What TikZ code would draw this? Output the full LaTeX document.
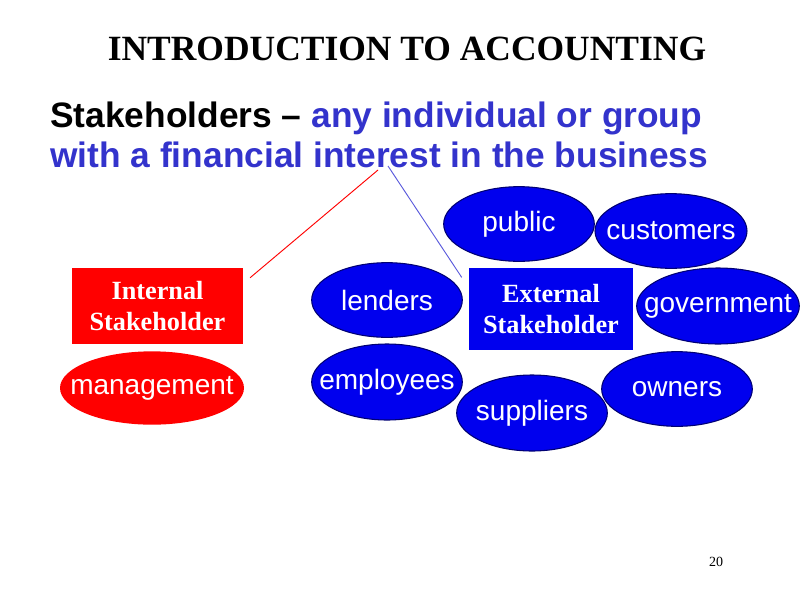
\documentclass[tikz,border=0pt]{standalone}
\usepackage{fontspec}
\setmainfont{Liberation Serif}
\setsansfont{Liberation Sans}
\usetikzlibrary{shapes.geometric}

\definecolor{slidered}{RGB}{255,0,0}
\definecolor{slideblue}{RGB}{0,0,238}
\definecolor{textblue}{RGB}{51,51,204}
\definecolor{lineblue}{RGB}{90,90,220}

% text that should not widen its ellipse
\newcommand{\partytext}[1]{\makebox[0pt]{#1}}

\begin{document}
\begin{tikzpicture}[x=0.75pt, y=-0.75pt,
  party/.style={ellipse, fill=slideblue, draw=black!55!blue, line width=0.8pt,
    inner sep=0pt, minimum width=113pt, minimum height=56pt, text=white,
    font=\sffamily\fontsize{21}{25}\selectfont},
  sidebox/.style={rectangle, inner sep=0pt, text=white, align=center,
    font=\bfseries\fontsize{19.7}{23}\selectfont}]

\useasboundingbox (0,0) rectangle (800,600);

% heading
\node[anchor=base, font=\bfseries\fontsize{26.6}{30}\selectfont] (title) at (407,60)
  {INTRODUCTION TO ACCOUNTING};
\node[anchor=base west, inner sep=0pt, font=\sffamily\bfseries\fontsize{26.5}{30}\selectfont] (def1) at (50,127)
  {Stakeholders -- \textcolor{textblue}{any individual or group}};
\node[anchor=base west, inner sep=0pt, text=textblue, font=\sffamily\bfseries\fontsize{26.5}{30}\selectfont] (def2) at (50,167)
  {with a financial interest in the business};

% internal side
\node[sidebox, fill=slidered, minimum width=128pt, minimum height=57pt] (internal) at (157.5,306)
  {Internal\\Stakeholder};
\node[party, fill=slidered, draw=none, minimum width=138pt, minimum height=55pt] (management) at (152,388) {\partytext{management}};

% external side
\node[sidebox, fill=slideblue, minimum width=123pt, minimum height=62pt] (external) at (551,309)
  {External\\Stakeholder};
\node[party] (public) at (519,224) {\partytext{public}};
\node[party, minimum width=114pt] (customers) at (671,231) {\partytext{customers}};
\node[party] (lenders) at (387,300) {\partytext{lenders}};
\node[party, minimum width=122pt, minimum height=57pt] (government) at (718,306) {\partytext{government}};
\node[party, minimum height=57pt] (employees) at (387,382) {\partytext{employees}};
\node[party, minimum height=57pt] (suppliers) at (532,413) {\partytext{suppliers}};
\node[party] (owners) at (677,389) {\partytext{owners}};

% pointers from the definition
\coordinate (redtop) at (378,170);
\coordinate (bluetop) at (388,166);
\draw[slidered, line width=0.7pt] ([shift={(7,10)}]internal.north east) -- (redtop);
\draw[lineblue, line width=0.7pt] ([shift={(-7,10)}]external.north west) -- (bluetop);

% slide number
\node[font=\fontsize{10.5}{12}\selectfont] (pagenum) at (716,562) {20};

\end{tikzpicture}
\end{document}
